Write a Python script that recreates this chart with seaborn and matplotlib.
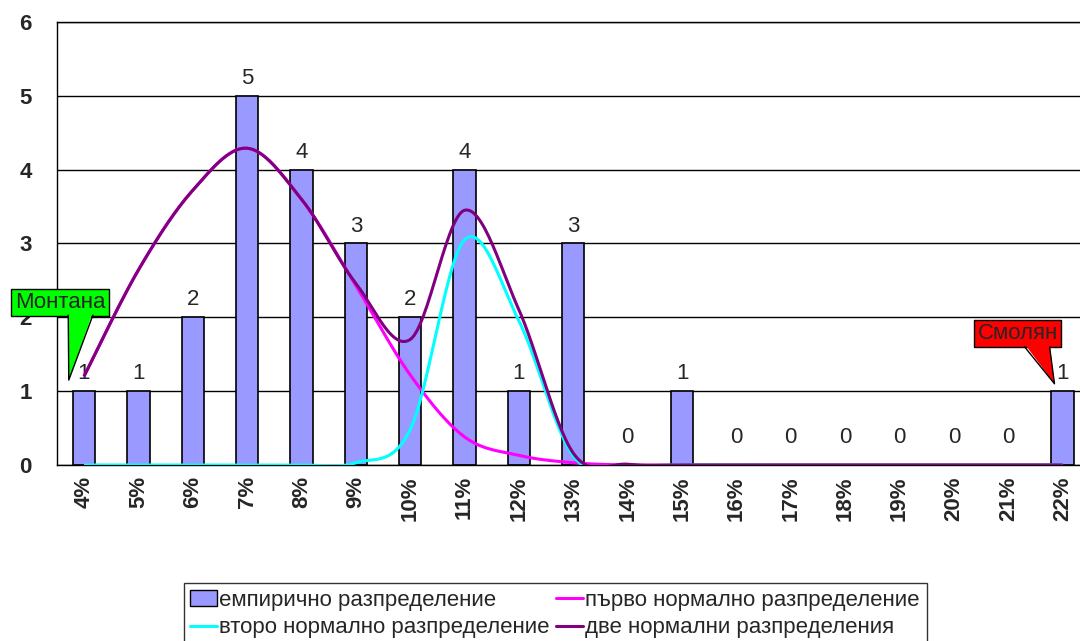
import numpy as np
import matplotlib
matplotlib.use('Agg')
import matplotlib.pyplot as plt
import seaborn as sns
from matplotlib.patches import Patch, Polygon
from matplotlib.lines import Line2D

# данни, отчетени от графиката
categories = ['4%', '5%', '6%', '7%', '8%', '9%', '10%', '11%', '12%', '13%',
              '14%', '15%', '16%', '17%', '18%', '19%', '20%', '21%', '22%']
empirical = [1, 1, 2, 5, 4, 3, 2, 4, 1, 3, 0, 1, 0, 0, 0, 0, 0, 0, 1]
first_normal = [1.2, 2.64, 3.72, 4.29, 3.6, 2.43, 1.22, 0.38, 0.13, 0.03,
                0, 0, 0, 0, 0, 0, 0, 0, 0]
second_normal = [0, 0, 0, 0, 0, 0.03, 0.48, 3.05, 1.95, 0.12,
                 0, 0, 0, 0, 0, 0, 0, 0, 0]
two_normals = [1.2, 2.64, 3.72, 4.29, 3.6, 2.46, 1.7, 3.45, 2.1, 0.16,
               0.01, 0, 0, 0, 0, 0, 0, 0, 0]

BAR_COLOR = '#9999FF'
PINK = '#FF00FF'
CYAN = '#00FFFF'
PURPLE = '#800080'
FS = 16


def smooth(y, n=30):
    """Изглаждане като в Excel (Безие с контролни точки на 1/6)."""
    y = np.asarray(y, dtype=float)
    x = np.arange(len(y), dtype=float)
    yp = np.concatenate([[y[0]], y, [y[-1]]])
    xp = np.concatenate([[x[0]], x, [x[-1]]])
    xs, ys = [], []
    t = np.linspace(0, 1, n)
    for i in range(len(y) - 1):
        p0 = np.array([x[i], y[i]])
        p3 = np.array([x[i + 1], y[i + 1]])
        p1 = p0 + (np.array([xp[i + 2], yp[i + 2]]) - np.array([xp[i], yp[i]])) / 6
        p2 = p3 - (np.array([xp[i + 3], yp[i + 3]]) - np.array([xp[i + 1], yp[i + 1]])) / 6
        pts = ((1 - t) ** 3)[:, None] * p0 + (3 * (1 - t) ** 2 * t)[:, None] * p1 \
            + (3 * (1 - t) * t ** 2)[:, None] * p2 + (t ** 3)[:, None] * p3
        xs.append(pts[:, 0])
        ys.append(pts[:, 1])
    return np.concatenate(xs), np.concatenate(ys)


def callout(ax, text, center, pointer, color):
    """Кутия с надпис и триъгълен указател."""
    ax.text(center[0], center[1], text, fontsize=FS, ha='center', va='center',
            zorder=6, clip_on=False,
            bbox=dict(boxstyle='square,pad=0.15', fc=color, ec='black', lw=1))
    (x0, y0), (x1, y1), (xt, yt) = pointer
    # запълване леко навътре в кутията, за да скрие линията на основата
    ax.add_patch(Polygon([(x0, y0 + 0.04), (x1, y1 + 0.04), (xt, yt)],
                         closed=True, fc=color, ec='none', zorder=7, clip_on=False))
    ax.plot([x0, xt, x1], [y0, yt, y1], color='black', lw=1, zorder=8, clip_on=False)


sns.set_style('white')
plt.rcParams['font.family'] = ['Liberation Sans', 'DejaVu Sans']

fig = plt.figure(figsize=(10.8, 6.41), dpi=100)
# областта на графиката излиза малко вдясно от картинката, както в оригинала
ax = fig.add_axes([0.0526, 0.2746, 0.9565, 0.6911])

sns.barplot(x=categories, y=empirical, color=BAR_COLOR, saturation=1,
            width=0.41, edgecolor='black', linewidth=1.2, ax=ax, zorder=2)
bars = ax.containers[0]
ax.bar_label(bars, labels=[str(v) if v else '' for v in empirical],
             padding=5, fontsize=FS)
ax.bar_label(bars, labels=['0' if v == 0 else '' for v in empirical],
             padding=12, fontsize=FS)

for vals, col in [(first_normal, PINK), (second_normal, CYAN), (two_normals, PURPLE)]:
    sx, sy = smooth(vals)
    ax.plot(sx, sy, color=col, lw=2.2, zorder=3, solid_capstyle='butt')

ax.set_xlim(-0.5, len(categories) - 0.5)
ax.set_ylim(0, 6)
ax.set_yticks(range(0, 7))
ax.yaxis.grid(True, color='black', lw=1)
ax.set_axisbelow(True)
ax.set_xlabel('')
ax.set_ylabel('')

ax.set_xticks(np.arange(len(categories)))
ax.set_xticklabels(categories, rotation=90, fontweight='bold', fontsize=FS)
ax.set_xticks(np.arange(-0.5, len(categories)), minor=True)
ax.tick_params(axis='x', which='major', length=0, pad=8)
ax.tick_params(axis='x', which='minor', length=6, width=1, direction='out', color='black')
ax.tick_params(axis='y', length=6, width=1, direction='out', color='black',
               labelsize=FS, pad=12)
for lbl in ax.get_yticklabels():
    lbl.set_fontweight('bold')

for side in ['left', 'bottom', 'top']:
    ax.spines[side].set_color('black')
    ax.spines[side].set_linewidth(1)
ax.spines['right'].set_visible(False)

# надписи-указатели
callout(ax, 'Монтана', (-0.44, 2.2),
        [(-0.29, 2.03), (0.165, 2.03), (-0.28, 1.15)], '#00FF00')
callout(ax, 'Смолян', (17.17, 1.78),
        [(17.30, 1.60), (17.76, 1.60), (17.85, 1.10)], '#FF0000')

handles = [
    Patch(facecolor=BAR_COLOR, edgecolor='black', lw=1),
    Line2D([], [], color=CYAN, lw=2.2),
    Line2D([], [], color=PINK, lw=2.2),
    Line2D([], [], color=PURPLE, lw=2.2),
]
labels = ['емпирично разпределение', 'второ нормално разпределение',
          'първо нормално разпределение', 'две нормални разпределения']
leg = fig.legend(handles, labels, ncol=2, loc='upper center',
                 bbox_to_anchor=(0.514, 0.0905), borderaxespad=0, fontsize=FS,
                 frameon=True, fancybox=False, edgecolor='black', handlelength=1.2,
                 handletextpad=0.1, columnspacing=0.3, borderpad=0.3,
                 labelspacing=0.3)
leg.get_frame().set_linewidth(1)

fig.savefig('out.png', dpi=100)
plt.close()
